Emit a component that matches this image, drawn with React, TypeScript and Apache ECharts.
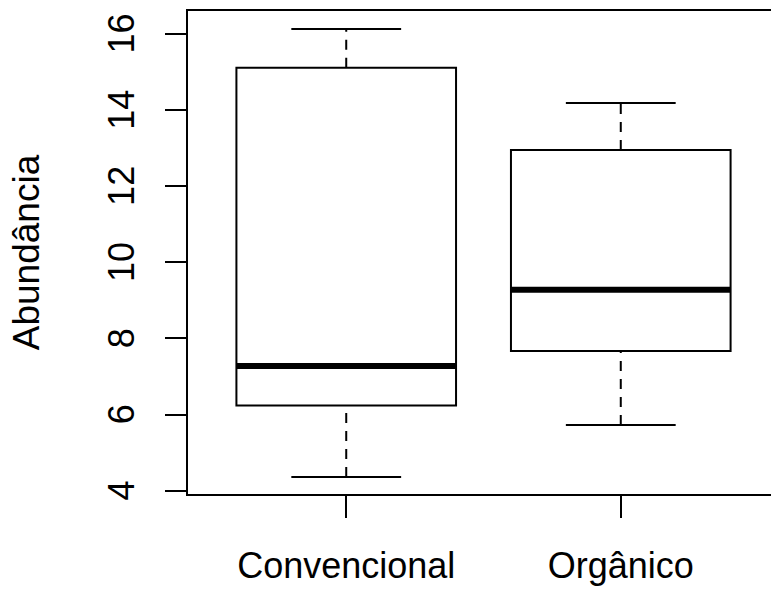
import React, { useEffect, useRef } from "react";
import * as echarts from "echarts";

const categories = ["Convencional", "Orgânico"];
const whiskerLow = [4.35, 5.72];
const q1 = [6.23, 7.66];
const medians = [7.27, 9.27];
const q3 = [15.1, 12.94];
const whiskerHigh = [16.12, 14.18];
const yTicks = [4, 6, 8, 10, 12, 14, 16];
const xPositions = [1, 2];

const FONT = "Liberation Sans, Arial, sans-serif";

export default function App() {
  const ref = useRef<HTMLDivElement>(null);
  useEffect(() => {
    if (!ref.current) return;
    const chart = echarts.init(ref.current, null, { renderer: "svg" });
    const data = categories.map((c, i) => [
      xPositions[i],
      whiskerLow[i],
      q1[i],
      medians[i],
      q3[i],
      whiskerHigh[i],
    ]);
    const boxHalf = 0.4;
    const capHalf = 0.2;
    const stroke = "#000";
    chart.setOption({
      animation: false,
      backgroundColor: "#fff",
      grid: {
        left: 184,
        top: 10,
        width: 596,
        height: 485,
        show: true,
        borderColor: "#000",
        borderWidth: 2,
        backgroundColor: "transparent",
      },
      xAxis: {
        type: "value",
        min: 0.42,
        max: 2.58,
        splitLine: { show: false },
        axisLine: { show: false },
        axisTick: {
          show: true,
          customValues: xPositions,
          length: 23,
          lineStyle: { color: stroke, width: 2 },
        },
        axisLabel: {
          show: true,
          customValues: xPositions,
          formatter: (v: number) => categories[xPositions.indexOf(Math.round(v))] ?? "",
          margin: 52,
          fontSize: 36,
          fontFamily: FONT,
          color: "#000",
        },
      },
      yAxis: {
        type: "value",
        min: 3.88,
        max: 16.62,
        name: "Abundância",
        nameLocation: "middle",
        nameRotate: 90,
        nameGap: 142,
        nameTextStyle: { fontSize: 37, fontFamily: FONT, color: "#000" },
        splitLine: { show: false },
        axisLine: { show: false },
        axisTick: {
          show: true,
          customValues: yTicks,
          length: 22,
          lineStyle: { color: stroke, width: 2 },
        },
        axisLabel: {
          show: true,
          customValues: yTicks,
          rotate: 90,
          margin: 48,
          fontSize: 36,
          fontFamily: FONT,
          color: "#000",
        },
      },
      series: [
        {
          type: "custom",
          data,
          clip: false,
          renderItem: (params: any, api: any) => {
            const x = api.value(0);
            const lo = api.value(1);
            const a = api.value(2);
            const m = api.value(3);
            const b = api.value(4);
            const hi = api.value(5);
            const pLo = api.coord([x, lo]);
            const pA = api.coord([x, a]);
            const pM = api.coord([x, m]);
            const pB = api.coord([x, b]);
            const pHi = api.coord([x, hi]);
            const left = api.coord([x - boxHalf, a])[0];
            const right = api.coord([x + boxHalf, a])[0];
            const capL = api.coord([x - capHalf, a])[0];
            const capR = api.coord([x + capHalf, a])[0];
            const cx = pA[0];
            const dashed = { stroke, lineWidth: 2, lineDash: [10, 8], fill: null };
            const solid = { stroke, lineWidth: 2, fill: null };
            return {
              type: "group",
              children: [
                { type: "line", shape: { x1: cx, y1: pB[1], x2: cx, y2: pHi[1] }, style: dashed },
                { type: "line", shape: { x1: cx, y1: pLo[1], x2: cx, y2: pA[1] }, style: dashed },
                { type: "line", shape: { x1: capL, y1: pHi[1], x2: capR, y2: pHi[1] }, style: solid },
                { type: "line", shape: { x1: capL, y1: pLo[1], x2: capR, y2: pLo[1] }, style: solid },
                {
                  type: "rect",
                  shape: { x: left, y: pB[1], width: right - left, height: pA[1] - pB[1] },
                  style: { stroke, lineWidth: 2, fill: "#fff" },
                },
                { type: "line", shape: { x1: left, y1: pM[1], x2: right, y2: pM[1] }, style: { stroke, lineWidth: 6 } },
              ],
            };
          },
        },
      ],
    });
    return () => chart.dispose();
  }, []);
  return (
    <div
      style={{ position: "absolute", left: 0, top: 0, width: 771, height: 590, overflow: "hidden", background: "#fff" }}
    >
      <div ref={ref} style={{ width: 800, height: 590 }} />
    </div>
  );
}
